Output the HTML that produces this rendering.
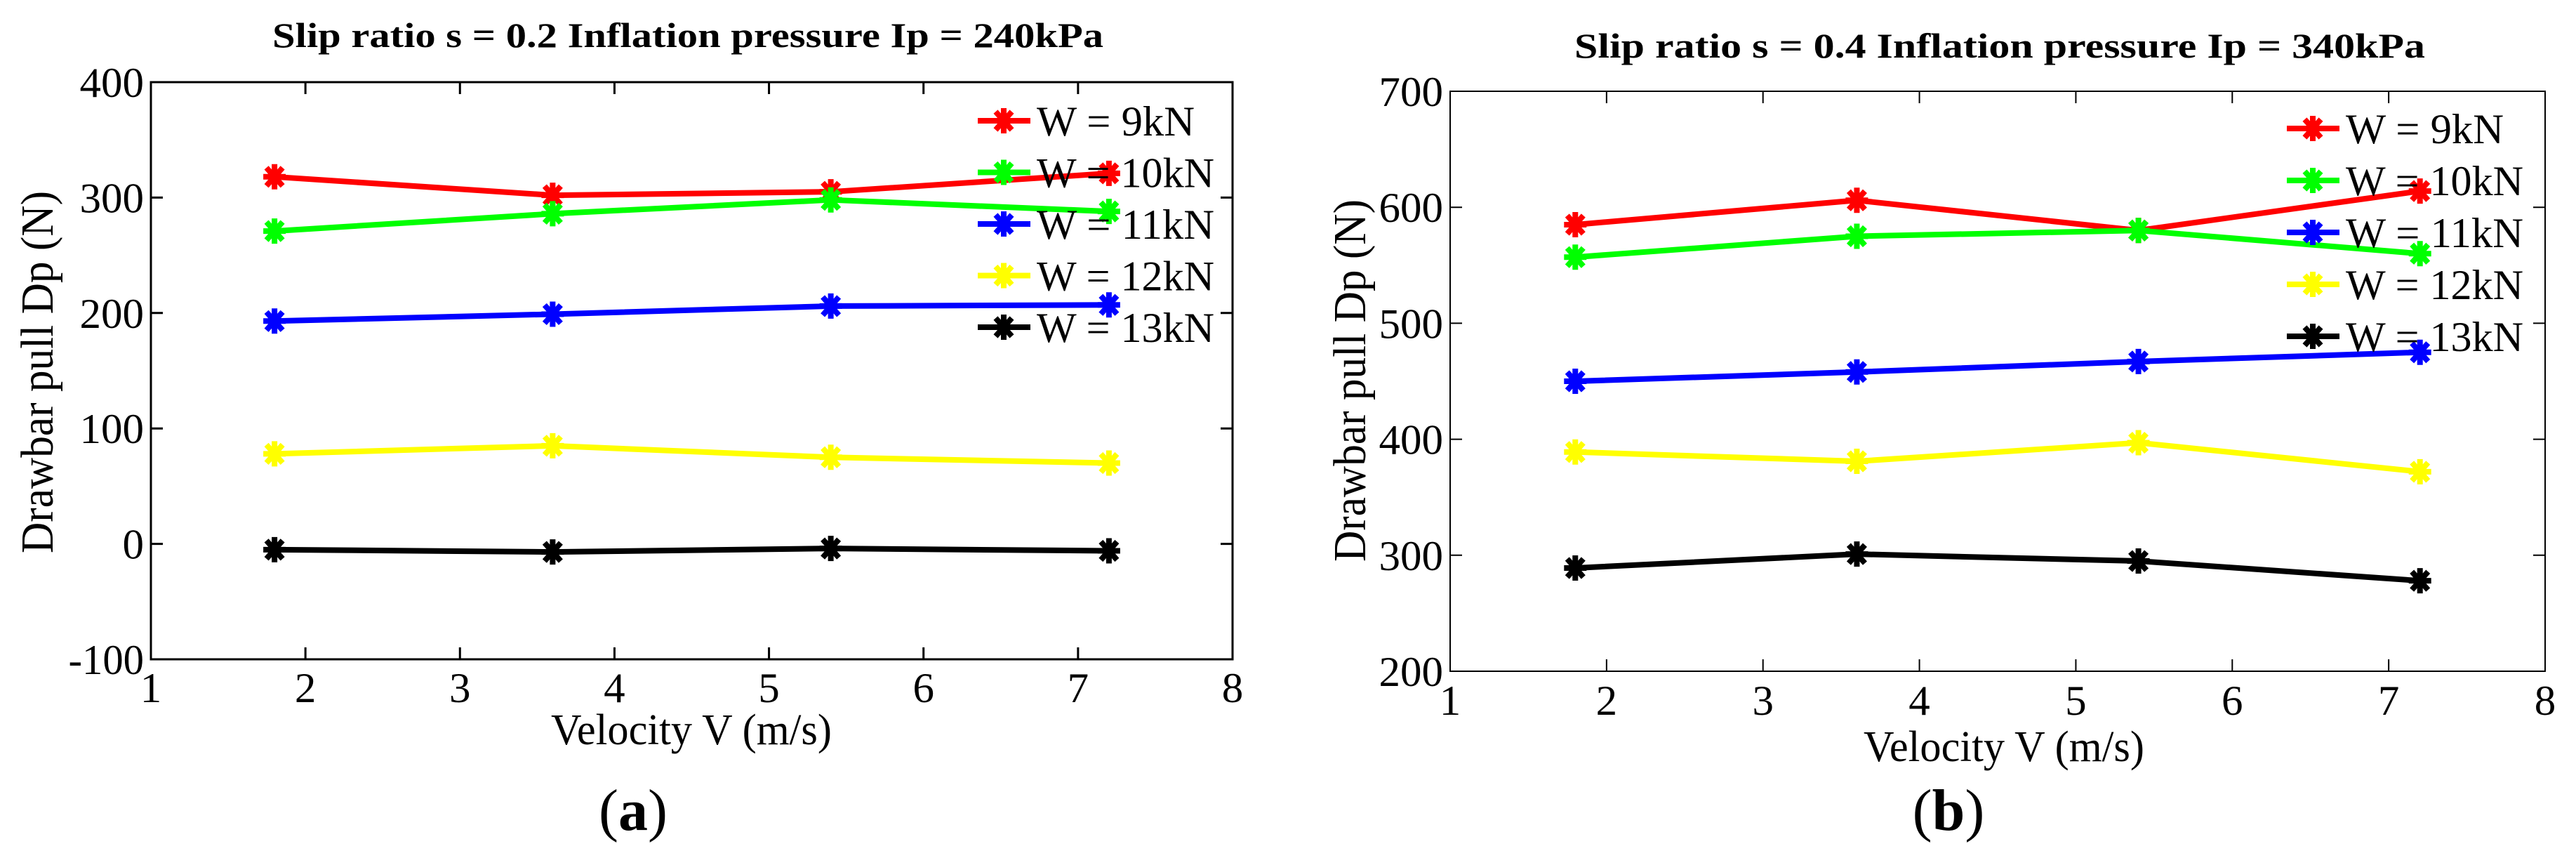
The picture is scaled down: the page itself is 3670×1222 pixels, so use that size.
<!DOCTYPE html>
<html><head><meta charset="utf-8"><style>
html,body{margin:0;padding:0;background:#fff;}
svg{display:block;}
svg text{font-family:"Liberation Serif","DejaVu Serif",serif;}
</style></head><body>
<svg id="fig" width="3670" height="1222" viewBox="0 0 3670 1222" xmlns="http://www.w3.org/2000/svg"></svg>
<script>
const xVals = [1.8, 3.6, 5.4, 7.2];
const seriesNames = ["W = 9kN", "W = 10kN", "W = 11kN", "W = 12kN", "W = 13kN"];
const seriesColors = ["#ff0000", "#00ff00", "#0000ff", "#ffff00", "#000000"];
const xTicks = [1, 2, 3, 4, 5, 6, 7, 8];
const aYTicks = [-100, 0, 100, 200, 300, 400];
const bYTicks = [200, 300, 400, 500, 600, 700];
const aW9 = [318, 302, 305, 321];
const aW10 = [271, 286, 298, 288];
const aW11 = [193, 199, 206, 207];
const aW12 = [78, 85, 75, 70];
const aW13 = [-5, -7, -4, -6];
const bW9 = [585, 606, 580, 614];
const bW10 = [557, 575, 580, 560];
const bW11 = [450, 458, 467, 475];
const bW12 = [389, 381, 397, 372];
const bW13 = [289, 301, 295, 278];
const aTitle = "Slip ratio s = 0.2 Inflation pressure Ip = 240kPa";
const bTitle = "Slip ratio s = 0.4 Inflation pressure Ip = 340kPa";

const NS = "http://www.w3.org/2000/svg";
const svg = document.getElementById("fig");
function mk(tag, attrs, parent) {
  const e = document.createElementNS(NS, tag);
  for (const k in attrs) e.setAttribute(k, attrs[k]);
  (parent || svg).appendChild(e);
  return e;
}
function numW(s) {
  let w = 0;
  for (const c of String(s)) w += (c === '-') ? 16 : 30.5;
  return w;
}

function asterisk(g, cx, cy, color) {
  const rx = 16, ry = 18, d = 0.72;
  const p = `M${cx-rx},${cy}L${cx+rx},${cy}M${cx},${cy-ry}L${cx},${cy+ry}` +
    `M${cx-rx*d},${cy-ry*d}L${cx+rx*d},${cy+ry*d}M${cx-rx*d},${cy+ry*d}L${cx+rx*d},${cy-ry*d}`;
  const a = mk("path", {d: p, stroke: color, "stroke-width": 8, fill: "none"}, g);
  
  
}

function drawPanel(cfg) {
  const g = mk("g", {});
  
  
  const X = v => cfg.x0 + (v - cfg.xmin) / (cfg.xmax - cfg.xmin) * (cfg.x1 - cfg.x0);
  const Y = v => cfg.y0 - (v - cfg.ymin) / (cfg.ymax - cfg.ymin) * (cfg.y0 - cfg.y1);
  const sw = cfg.axisW;
  const box = mk("rect", {x: cfg.x0, y: cfg.y1, width: cfg.x1 - cfg.x0, height: cfg.y0 - cfg.y1, fill: "none", stroke: "#000", "stroke-width": sw}, g);
  
  
  xTicks.forEach(t => {
    const x = X(t);
    mk("line", {x1: x, x2: x, y1: cfg.y0, y2: cfg.y0 - 17, stroke: "#000", "stroke-width": sw}, g);
    mk("line", {x1: x, x2: x, y1: cfg.y1, y2: cfg.y1 + 17, stroke: "#000", "stroke-width": sw}, g);
    const tl = mk("text", {x: x, y: cfg.xLabY, "font-size": 60, "text-anchor": "middle", textLength: numW(t), lengthAdjust: "spacingAndGlyphs"}, g);
    tl.textContent = t;
    
    
  });
  cfg.yTicks.forEach(t => {
    const y = Y(t);
    mk("line", {x1: cfg.x0, x2: cfg.x0 + 17, y1: y, y2: y, stroke: "#000", "stroke-width": sw}, g);
    mk("line", {x1: cfg.x1, x2: cfg.x1 - 17, y1: y, y2: y, stroke: "#000", "stroke-width": sw}, g);
    const tl = mk("text", {x: cfg.x0 - 10, y: y + 21, "font-size": 60, "text-anchor": "end", textLength: numW(t), lengthAdjust: "spacingAndGlyphs"}, g);
    tl.textContent = t;
    
    
  });
  cfg.series.forEach((vals, i) => {
    const sg = mk("g", {}, g);
    
    
    const pts = vals.map((v, j) => X(xVals[j]) + "," + Y(v)).join(" ");
    const pl = mk("polyline", {points: pts, fill: "none", stroke: seriesColors[i], "stroke-width": 8, "stroke-linejoin": "round"}, sg);
    
    
    vals.forEach((v, j) => asterisk(sg, X(xVals[j]), Y(v), seriesColors[i]));
  });
  const lg = mk("g", {}, g);
  
  
  seriesNames.forEach((n, i) => {
    const y = cfg.legY + i * cfg.legStep;
    const eg = mk("g", {}, lg);
    
    
    mk("line", {x1: cfg.legX, x2: cfg.legX + 75, y1: y, y2: y, stroke: seriesColors[i], "stroke-width": 8}, eg);
    asterisk(eg, cfg.legX + 37, y, seriesColors[i]);
    const t = mk("text", {x: cfg.legX + 84, y: y + 21, "font-size": 60, textLength: n.length > 7 ? 253 : 225, lengthAdjust: "spacingAndGlyphs"}, eg);
    t.textContent = n;
  });
  const tt = mk("text", {x: cfg.titleX, y: cfg.titleY, "font-size": 50, "font-weight": "bold", "text-anchor": "middle", textLength: cfg.titleW, lengthAdjust: "spacingAndGlyphs"}, g);
  tt.textContent = cfg.title;
  
  
  const xl = mk("text", {x: cfg.xtX, y: cfg.xtY, "font-size": 62, "text-anchor": "middle", textLength: 400, lengthAdjust: "spacingAndGlyphs"}, g);
  xl.textContent = "Velocity V (m/s)";
  
  
  const yl = mk("text", {x: 0, y: 0, "font-size": 66, "text-anchor": "middle", textLength: 516, lengthAdjust: "spacingAndGlyphs", transform: `translate(${cfg.ytX},${cfg.ytY}) rotate(-90)`}, g);
  yl.textContent = "Drawbar pull Dp (N)";
  
  
  const cap = mk("text", {x: cfg.capX, y: 1182, "font-size": 84, "text-anchor": "middle"}, g);
  cap.innerHTML = '(<tspan font-weight="bold">' + cfg.cap + '</tspan>)';
  
  
}

drawPanel({name: "panel-a", x0: 215, x1: 1756, y0: 939, y1: 117, xmin: 1, xmax: 8, ymin: -100, ymax: 400,
  yTicks: aYTicks, series: [aW9, aW10, aW11, aW12, aW13], axisW: 3, xLabY: 1000,
  legX: 1393, legY: 172, legStep: 73.5, title: aTitle, titleX: 980, titleY: 67, titleW: 1184,
  xtX: 985, xtY: 1060, ytX: 75, ytY: 530, capX: 902, cap: "a"});
drawPanel({name: "panel-b", x0: 2066, x1: 3626, y0: 956, y1: 130, xmin: 1, xmax: 8, ymin: 200, ymax: 700,
  yTicks: bYTicks, series: [bW9, bW10, bW11, bW12, bW13], axisW: 2, xLabY: 1018,
  legX: 3258, legY: 183, legStep: 74, title: bTitle, titleX: 2849, titleY: 82, titleW: 1212,
  xtX: 2855, xtY: 1084, ytX: 1945, ytY: 542, capX: 2776, cap: "b"});
</script>
</body></html>
